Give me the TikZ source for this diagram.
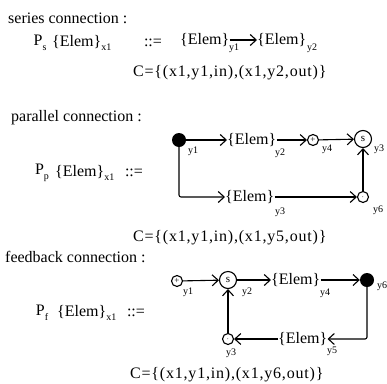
\documentclass[tikz,border=0pt]{standalone}
\usepackage{fontspec}
\setmainfont{Liberation Serif}
\usetikzlibrary{arrows.meta}
\newcommand\sbs[1]{\raisebox{-0.3em}{\fontsize{10}{10}\selectfont #1}}
\tikzset{
 txt/.style={inner sep=0pt, font=\fontsize{16}{18}\selectfont},
 ctxt/.style={inner sep=0pt, anchor=west, font=\fontsize{16}{18}\selectfont\addfontfeature{LetterSpace=5}},
 lbl/.style={inner sep=0pt, font=\fontsize{10}{11}\selectfont},
 elem/.style={txt, anchor=west},
 conn/.style={line width=1.1pt, -{Straight Barb[length=6pt,width=11pt,line width=1.1pt]}},
 junc/.style={circle, draw, line width=1.1pt, inner sep=0pt, minimum size=11pt, font=\fontsize{9}{9}\selectfont},
 bigjunc/.style={junc, minimum size=17pt, font=\fontsize{11}{11}\selectfont},
 dotnode/.style={circle, fill=black, inner sep=0pt, minimum size=14pt},
}
\begin{document}
\begin{tikzpicture}[x=1pt,y=-1pt]
\useasboundingbox (0,0) rectangle (387,383);
% series
\node[txt,anchor=west] (sh) at (8,18) {series connection :};
\node[txt] (ps) at (40,43) {P\sbs{s}};
\node[txt,anchor=west] (sx) at (52,43) {\{Elem\}\sbs{x1}};
\node[txt] (sd) at (153,43) {::=};
\node[elem] (se1) at (180,40) {\{Elem\}};
\node[lbl] (sy1) at (234,48) {y1};
\node[elem] (se2) at (257,40) {\{Elem\}};
\node[lbl] (sy2) at (312,48) {y2};
\draw[conn] (se1.east) -- (se2.west);
\node[ctxt] (sc) at (133,73) {C=\{(x1,y1,in),(x1,y2,out)\}};
% parallel
\node[txt,anchor=west] (ph) at (11,118) {parallel connection :};
\node[txt] (pp) at (42,173) {P\sbs{p}};
\node[txt,anchor=west] (px) at (55,173) {\{Elem\}\sbs{x1}};
\node[txt] (pd) at (134,173) {::=};
\node[dotnode] (pdot) at (179,140) {};
\node[elem] (pe1) at (227,140) {\{Elem\}};
\node[junc] (pplus) at (313,140) {+};
\node[bigjunc] (ps2) at (363,139) {s};
\node[junc] (pmin) at (363,197) {$\cdot$};
\node[elem] (pe2) at (225,197) {\{Elem\}};
\coordinate (pcorner) at (179,197);
\draw[conn] (pdot) -- (pe1.west);
\draw[conn] (pe1.east) -- (pplus);
\draw[conn] (pplus) -- (ps2);
\draw[conn] (pmin) -- (ps2);
\draw[conn, rounded corners=2pt] (pdot) -- (pcorner) -- (pe2.west);
\draw[conn] (pe2.east) -- (pmin);
\node[lbl] (py1) at (193,151) {y1};
\node[lbl] (py2) at (280,153) {y2};
\node[lbl] (py4) at (327,149) {y4};
\node[lbl] (py3) at (379,149) {y3};
\node[lbl] (py6) at (378,210) {y6};
\node[lbl] (py3b) at (280,212) {y3};
\node[ctxt] (pc) at (133,238) {C=\{(x1,y1,in),(x1,y5,out)\}};
% feedback
\node[txt,anchor=west] (fh) at (5,257) {feedback connection :};
\node[txt] (pf) at (42,313) {P\sbs{f}};
\node[txt,anchor=west] (fx) at (57,313) {\{Elem\}\sbs{x1}};
\node[txt] (fd) at (136,313) {::=};
\node[junc] (fplus) at (177,281) {+};
\node[bigjunc] (fs) at (228,280) {s};
\node[elem] (fe1) at (271,280) {\{Elem\}};
\node[dotnode] (fdot) at (367,280) {};
\coordinate (fcorner) at (367,339);
\node[elem] (fe2) at (278,339) {\{Elem\}};
\node[junc] (fmin) at (228,339) {$\cdot$};
\draw[conn] (fplus) -- (fs);
\draw[conn] (fs) -- (fe1.west);
\draw[conn] (fe1.east) -- (fdot);
\draw[conn, rounded corners=2pt] (fdot) -- (fcorner) -- (fe2.east);
\draw[conn] (fe2.west) -- (fmin);
\draw[conn] (fmin) -- (fs);
\node[lbl] (fy1) at (188,292) {y1};
\node[lbl] (fy2) at (247,292) {y2};
\node[lbl] (fy4) at (325,293) {y4};
\node[lbl] (fy6) at (382,286) {y6};
\node[lbl] (fy5) at (332,351) {y5};
\node[lbl] (fy3) at (231,353) {y3};
\node[ctxt] (fc) at (130,375) {C=\{(x1,y1,in),(x1,y6,out)\}};
\end{tikzpicture}
\end{document}
